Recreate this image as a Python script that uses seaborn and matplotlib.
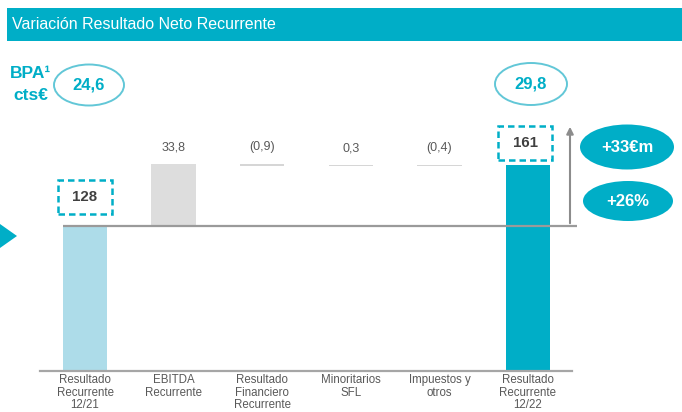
import numpy as np
import matplotlib
matplotlib.use("Agg")
import matplotlib.pyplot as plt
import seaborn as sns
from matplotlib.patches import Rectangle, Ellipse, Polygon, FancyArrowPatch

# ---------------- data ----------------
categories = ["Resultado\nRecurrente\n12/21", "EBITDA\nRecurrente",
              "Resultado\nFinanciero\nRecurrente", "Minoritarios\nSFL",
              "Impuestos y\notros", "Resultado\nRecurrente\n12/22"]
start_value = 128.0
steps = [33.8, -0.9, 0.3, -0.4]
end_value = 161.0
step_labels = ["33,8", "(0,9)", "0,3", "(0,4)"]
total_labels = ["128", "161"]
eps_labels = ["24,6", "29,8"]
delta_labels = ["+33€m", "+26%"]
bar_colors = ["#ADDCE9", "#DDDDDD", "#D6D6D6", "#D6D6D6", "#D6D6D6", "#00AEC7"]

TEAL = "#00AEC7"
GREY_TXT = "#595959"

# waterfall geometry from data
heights = [start_value] + steps + [end_value]
bottoms = [0.0]
cum = start_value
for s in steps:
    bottoms.append(cum)
    cum += s
bottoms.append(0.0)

sns.set_theme(style="white")
plt.rcParams["font.family"] = ["Liberation Sans", "DejaVu Sans"]

W, H = 682, 412
fig = plt.figure(figsize=(W / 100, H / 100), dpi=100)

def fx(px):
    return px / W

def fy(py):
    return 1 - py / H

# axes: x centres at 85 + 88.6*i px, baseline y=371px
ax_left, ax_right, ax_bottom, ax_top = 40, 572, 371, 120
ax = fig.add_axes([fx(ax_left), fy(ax_bottom), (ax_right - ax_left) / W,
                   (ax_bottom - ax_top) / H])

sns.barplot(x=categories, y=heights, bottom=bottoms, width=0.5,
            errorbar=None, ax=ax, color=bar_colors[0], saturation=1)
for p, c in zip(ax.patches, bar_colors):
    p.set_facecolor(c)
    p.set_edgecolor("none")

# broken (compressed) y-axis below the starting value
k = 0.618
brk = start_value

def fwd(v):
    v = np.asarray(v, dtype=float)
    return np.where(v <= brk, v * k, brk * k + (v - brk))

def inv(d):
    d = np.asarray(d, dtype=float)
    return np.where(d <= brk * k, d / k, d - brk * k + brk)

ax.set_yscale("function", functions=(fwd, inv))
ax.set_ylim(0, 185.8)
sp = 88.6
ax.set_xlim((ax_left - 85) / sp, (ax_right - 85) / sp)

ax.set_yticks([])
ax.set_ylabel("")
ax.set_xlabel("")
for s in ["top", "right", "left"]:
    ax.spines[s].set_visible(False)
ax.spines["bottom"].set_color("#A6A6A6")
ax.spines["bottom"].set_linewidth(1.6)
ax.tick_params(axis="x", length=0, pad=2.5)
ax.set_xticks(range(len(categories)))
ax.set_xticklabels(categories, fontsize=8.3, color=GREY_TXT, linespacing=1.05)
ax.patch.set_alpha(0)

# reference line at the starting value
ax.hlines(start_value, -0.25, (577 - 85) / sp, color="#9A9A9A", lw=1.6,
          zorder=5, clip_on=False)

# step value labels
for i, lab in enumerate(step_labels, start=1):
    top = max(bottoms[i], bottoms[i] + heights[i])
    ax.annotate(lab, (i, top), xytext=(0, 12), textcoords="offset points",
                ha="center", va="center", fontsize=9, color=GREY_TXT)

# dashed total boxes
for (x0, y0, x1, y1), lab in zip([(58, 180, 112, 214), (498, 126, 552, 160)],
                                  total_labels):
    fig.add_artist(Rectangle((fx(x0), fy(y1)), fx(x1) - fx(x0), fy(y0) - fy(y1),
                             transform=fig.transFigure, fill=False,
                             edgecolor=TEAL, lw=1.8, linestyle=(0, (2.6, 1.6))))
    fig.text(fx((x0 + x1) / 2), fy((y0 + y1) / 2), lab, ha="center",
             va="center", fontsize=10.8, fontweight="bold", color="#404040")

# title bar
fig.add_artist(Rectangle((fx(7), fy(41)), fx(682) - fx(7), fy(8) - fy(41),
                         transform=fig.transFigure, color=TEAL, lw=0))
fig.text(fx(12), fy(24.5), "Variación Resultado Neto Recurrente", ha="left",
         va="center", fontsize=11.5, color="white")

# BPA labels
fig.text(fx(30), fy(74), "BPA¹", ha="center", va="center", fontsize=12.5,
         fontweight="bold", color=TEAL)
fig.text(fx(31), fy(96), "cts€", ha="center", va="center", fontsize=12.5,
         fontweight="bold", color=TEAL)
for (cxp, cyp, wp, hp), lab in zip([(89, 85, 70, 41), (531, 84, 72, 42)],
                                   eps_labels):
    fig.add_artist(Ellipse((fx(cxp), fy(cyp)), fx(wp), hp / H,
                           transform=fig.transFigure, fill=False,
                           edgecolor="#62C7D7", lw=1.4))
    fig.text(fx(cxp), fy(cyp), lab, ha="center", va="center", fontsize=12,
             fontweight="bold", color=TEAL)

# delta ellipses
for (cxp, cyp, wp, hp), lab in zip([(627, 147, 94, 45), (628, 201, 90, 40)],
                                   delta_labels):
    fig.add_artist(Ellipse((fx(cxp), fy(cyp)), fx(wp), hp / H,
                           transform=fig.transFigure, color=TEAL, lw=0))
    fig.text(fx(cxp), fy(cyp), lab, ha="center", va="center", fontsize=12,
             fontweight="bold", color="white")

# arrow
fig.add_artist(FancyArrowPatch((fx(570), fy(226)), (fx(570), fy(124)),
                               transform=fig.transFigure, arrowstyle="-|>",
                               mutation_scale=10, color="#8C8C8C", lw=1.5))

# left triangle marker
fig.add_artist(Polygon([(fx(0), fy(224)), (fx(0), fy(248)), (fx(17), fy(236))],
                       closed=True, transform=fig.transFigure, color=TEAL, lw=0))

fig.savefig("out.png", dpi=100)
